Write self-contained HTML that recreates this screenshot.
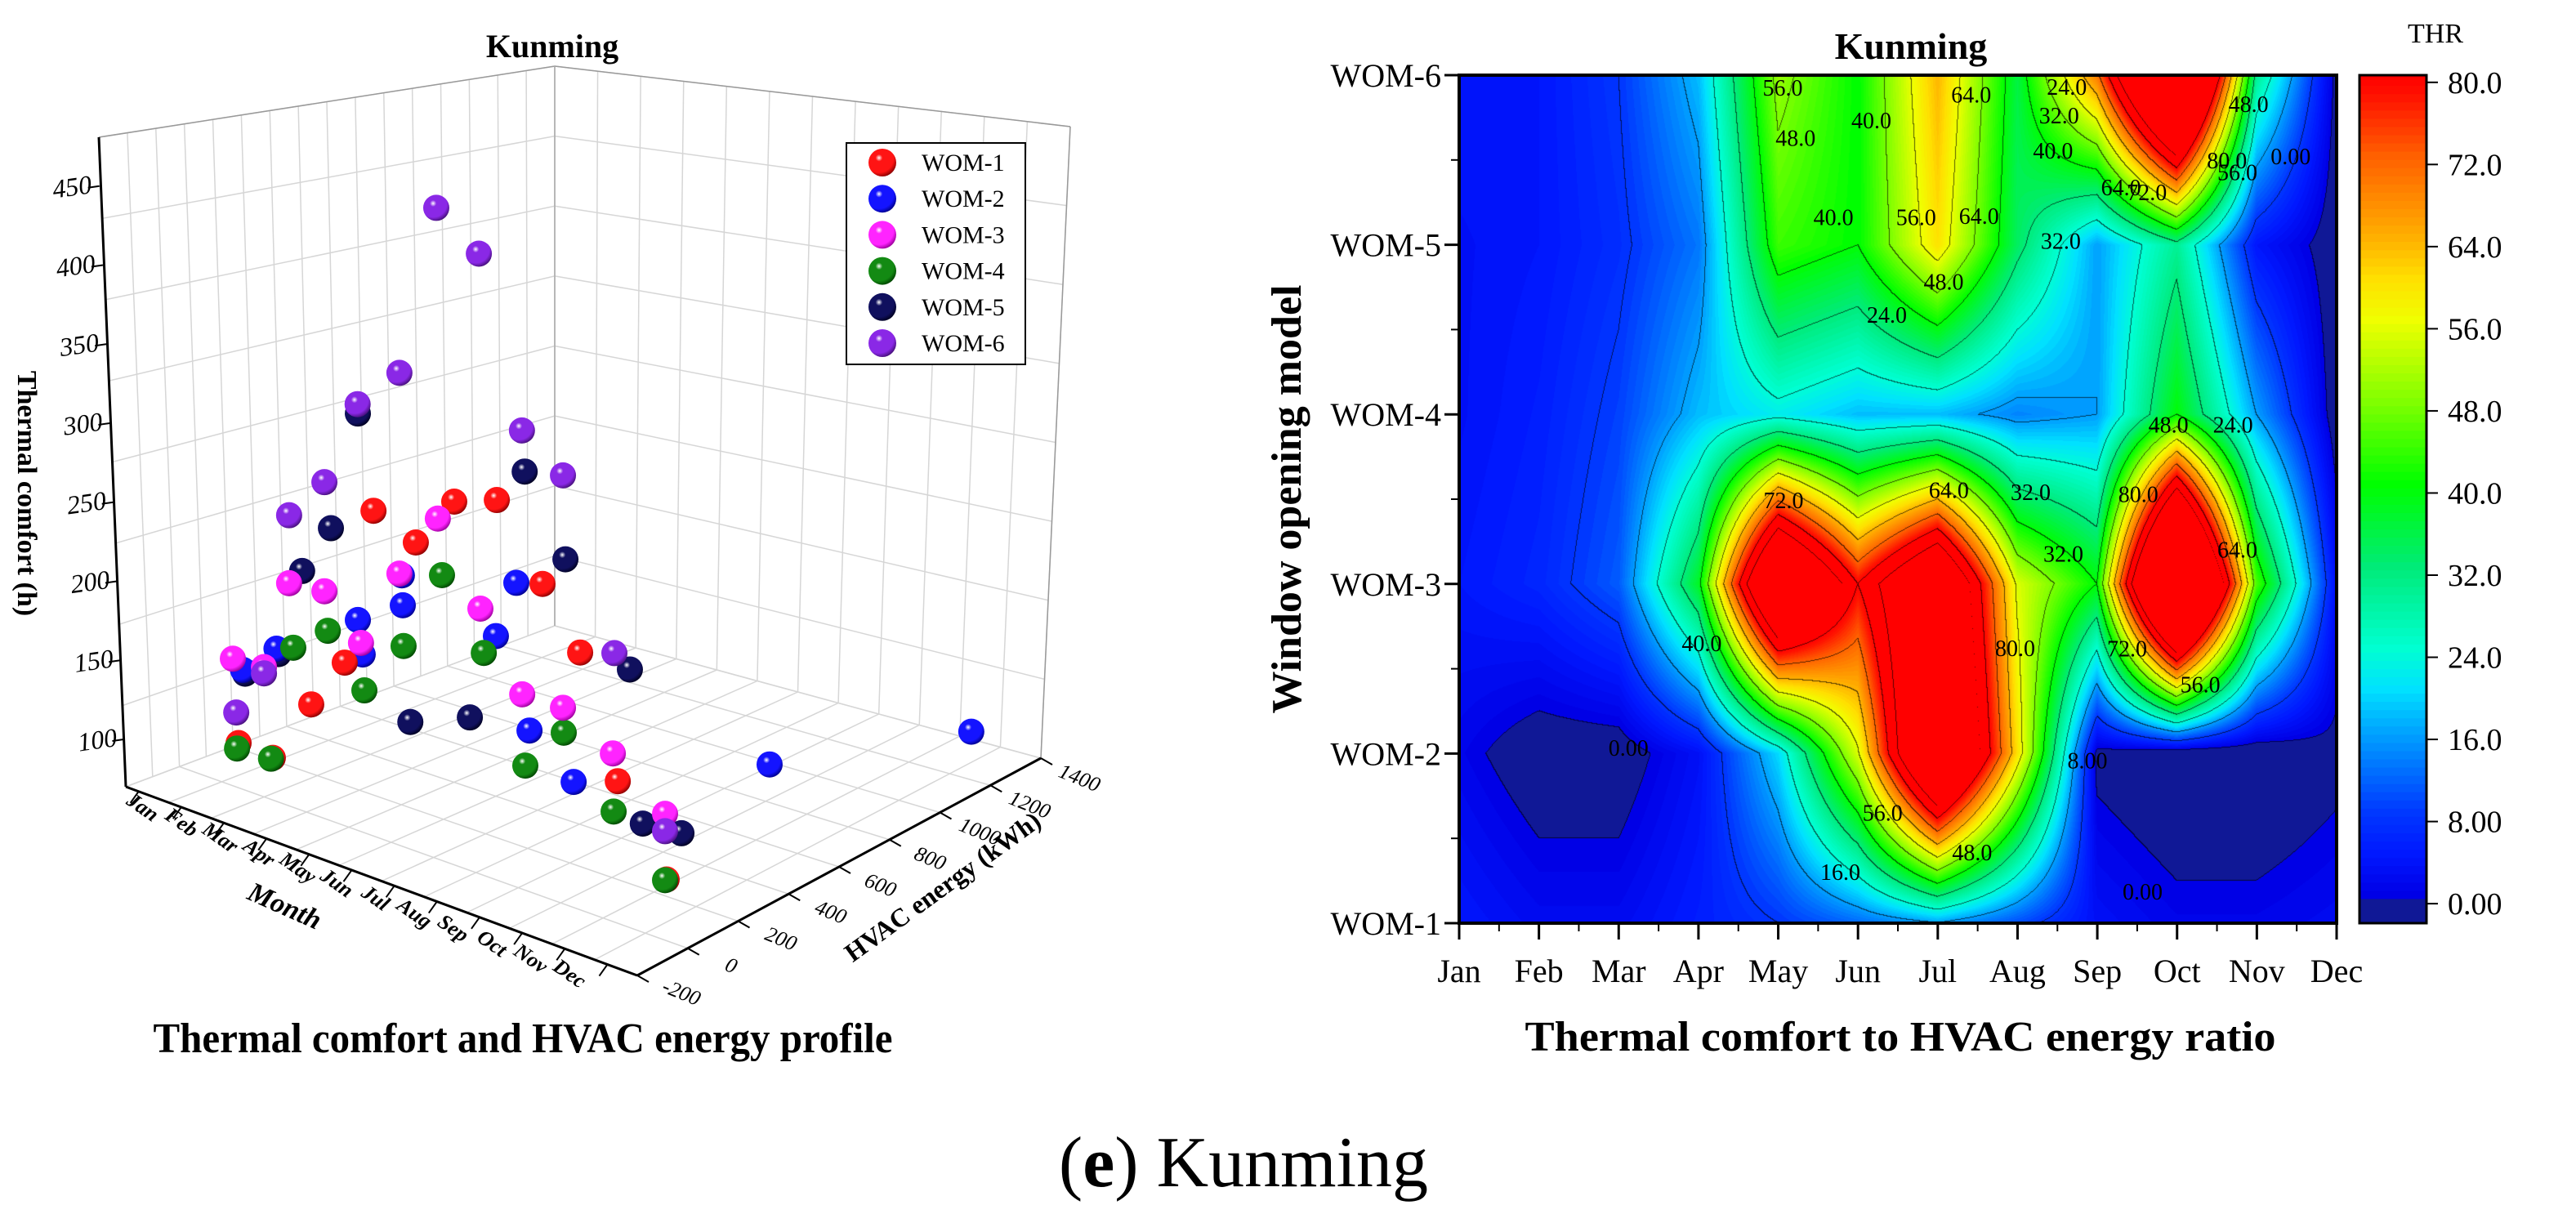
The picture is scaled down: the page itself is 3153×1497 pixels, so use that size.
<!DOCTYPE html>
<html><head><meta charset="utf-8">
<style>
html,body{margin:0;padding:0;background:#fff;}
#wrap{position:relative;width:3153px;height:1497px;overflow:hidden;background:#fff;}
#hm{position:absolute;left:1786px;top:92px;}
svg{position:absolute;left:0;top:0;}
text{font-family:"Liberation Serif",serif;}
</style></head>
<body>
<div id="wrap">
<canvas id="hm" width="1074" height="1038"></canvas>
<svg id="svg" width="3153" height="1497" xmlns="http://www.w3.org/2000/svg">
<defs id="defs"></defs>
</svg>
</div>
<script>
// ===== 3D scatter data =====
const months3d = ["Jan","Feb","Mar","Apr","May","Jun","Jul","Aug","Sep","Oct","Nov","Dec"];
const seriesNames = ["WOM-1","WOM-2","WOM-3","WOM-4","WOM-5","WOM-6"];
const energyW1 = [233,186,155,105,37,21,-10,-25,-28,-62,-96,-87];
const comfortW1 = [65,70,117,158,270,262,301,314,272,242,174,122];
const energyW2 = [250,200,334,174,146,-29,150,50,-78,-87,487,1083];
const comfortW2 = [110,138,157,158,221,226,204,256,183,162,141,128];
const energyW3 = [211,152,70,27,-11,-42,-73,-88,-106,-128,-115,-93];
const comfortW3 = [120,130,200,209,190,247,295,250,208,212,193,164];
const energyW4 = [227,179,86,40,2,-26,-57,-75,-94,-125,-112,-93];
const comfortW4 = [62,70,158,183,159,200,258,221,162,196,156,122];
const energyW5 = [258,208,120,52,-23,0,50,82,60,129,0,-30];
const comfortW5 = [107,134,204,247,336,150,160,324,281,217,140,147];
const energyW6 = [224,152,70,27,-24,-42,-79,-94,-107,-128,-109,-93];
const comfortW6 = [85,126,243,278,342,374,492,475,375,359,256,153];
const zTicks = [100,150,200,250,300,350,400,450];
const eTicks = [-200,0,200,400,600,800,1000,1200,1400];

// ===== Heatmap data (THR), rows WOM-1..WOM-6, cols Jan..Dec =====
const hmMonths = ["Jan","Feb","Mar","Apr","May","Jun","Jul","Aug","Sep","Oct","Nov","Dec"];
const hmRows = ["WOM-1","WOM-2","WOM-3","WOM-4","WOM-5","WOM-6"];
const thrW1 = [4,2,2,5,8,12,16,10,3,1,1,2];
const thrW2 = [1,-2,-2,3,20,55,120,60,-1,-3,-3,-1];
const thrW3 = [4,6,11,38,120,80,110,55,40,150,45,3];
const thrW4 = [3,5,9,18,22,18,18,14,16,40,16,-2];
const thrW5 = [3,4,7,13,44,40,60,34,16,30,4,-2];
const thrW6 = [4,4,8,18,50,40,64,36,70,140,30,-1];
const cbTicks = [0,8,16,24,32,40,48,56,64,72,80];
const contourLabels = [["56.0",647,133],["64.0",866,143],["24.0",977,132],["40.0",750,181],["48.0",662,207],["32.0",968,174],["48.0",1188,157],["40.0",961,226],["80.0",1163,240],["0.00",1237,234],["56.0",1175,258],["64.0",1040,280],["72.0",1070,287],["40.0",706,324],["56.0",802,324],["64.0",875,322],["32.0",970,359],["48.0",834,419],["24.0",768,468],["48.0",1095,630],["24.0",1170,630],["72.0",648,741],["64.0",840,726],["32.0",935,729],["80.0",1060,732],["32.0",973,820],["64.0",1175,814],["40.0",553,952],["80.0",917,959],["72.0",1047,960],["56.0",1132,1013],["0.00",468,1106],["8.00",1001,1125],["56.0",763,1202],["48.0",867,1260],["16.0",714,1289],["0.00",1065,1318]];

const NS="http://www.w3.org/2000/svg";
const svg=document.getElementById('svg');
const defs=document.getElementById('defs');
function mk(tag,attrs,parent,txt){const e=document.createElementNS(NS,tag);for(const k in attrs)e.setAttribute(k,attrs[k]);if(txt!==undefined)e.textContent=txt;(parent||svg).appendChild(e);return e;}

// ---------- 3D scatter ----------
const g3=mk('g',{});


const Lf=[154,963],Lt=[121,168],Bf=[679,766],Bt=[679,81],Rf=[1274,928],Rt=[1310,155],Ff=[780,1194];
function lerp(a,b,t){return [a[0]+(b[0]-a[0])*t,a[1]+(b[1]-a[1])*t];}
function quad(p00,p10,p11,p01,s,t){const a=lerp(p00,p10,s),b=lerp(p01,p11,s);return lerp(a,b,t);}
const zMin=70;
function line(a,b,st,w,parent,name){const l=mk('line',{x1:a[0],y1:a[1],x2:b[0],y2:b[1],stroke:st,'stroke-width':w},parent);return l;}
const gridG=mk('g',{},g3);


const gc='#d6d6d6';
for(let k=0;k<=16;k++){const s=k/16;line(quad(Lf,Bf,Bt,Lt,s,0),quad(Lf,Bf,Bt,Lt,s,1),gc,1.5,gridG,'gridline');}
for(let k=0;k<=8;k++){const t=k/8;line(quad(Lf,Bf,Bt,Lt,0,t),quad(Lf,Bf,Bt,Lt,1,t),gc,1.5,gridG,'gridline');}
for(let k=0;k<=12;k++){const s=k/12;line(quad(Bf,Rf,Rt,Bt,s,0),quad(Bf,Rf,Rt,Bt,s,1),gc,1.5,gridG,'gridline');}
for(let k=0;k<=8;k++){const t=k/8;line(quad(Bf,Rf,Rt,Bt,0,t),quad(Bf,Rf,Rt,Bt,1,t),gc,1.5,gridG,'gridline');}
for(let k=0;k<=12;k++){const s=k/12;line(lerp(Lf,Ff,s),lerp(Bf,Rf,s),gc,1.5,gridG,'gridline');}
for(let k=0;k<=8;k++){const s=k/8;line(lerp(Lf,Bf,s),lerp(Ff,Rf,s),gc,1.5,gridG,'gridline');}
line(Lt,Bt,'#999',1.5,g3,'box-top-edge');line(Bt,Rt,'#999',1.5,g3,'box-top-edge');line(Rt,Rf,'#999',1.5,g3,'box-right-edge');line(Bt,Bf,'#aaa',1.5,g3,'box-back-edge');
line(Lf,Lt,'#000',3,g3,'z-axis-line');
line(Lf,Ff,'#000',3,g3,'month-axis-line');
line(Ff,Rf,'#000',3,g3,'energy-axis-line');
zTicks.forEach(z=>{
  const y=963-1.935*(z-zMin), x=154-0.085*(z-zMin);
  line([x-14,y+2],[x,y],'#000',2,g3,'z-tick');
  const lx=143-(z-100)*0.0886, ly=903-(z-100)*1.934;
  const t=mk('text',{x:lx,y:ly+10,'font-size':32,'text-anchor':'end','font-family':'Liberation Sans, sans-serif','font-style':'italic',transform:`rotate(-8 ${lx} ${ly})`},g3,String(z));
  
});
months3d.forEach((m,i)=>{
  const p=lerp(Lf,Ff,(i+0.3)/12);
  line(p,[p[0]-10,p[1]+14],'#000',2,g3,'month-tick');
  const lx=170+47.5*i, ly=995+18.5*i;
  const t=mk('text',{x:lx,y:ly,'font-size':26,'text-anchor':'middle','font-style':'italic','font-weight':'bold',transform:`rotate(35 ${lx} ${ly})`},g3,m);
  
});
eTicks.forEach((e,i)=>{
  const s=(e+200)/1600, p=lerp(Ff,Rf,s);
  line(p,[p[0]+14,p[1]+8],'#000',2,g3,'energy-tick');
  const lx=834+60.9*i, ly=1215-32.8*i;
  const t=mk('text',{x:lx,y:ly+8,'font-size':26,'text-anchor':'middle','font-style':'italic',transform:`rotate(22 ${lx} ${ly})`},g3,String(e));
  
});
let tt;
tt=mk('text',{x:344,y:1119,'font-size':34,'font-weight':'bold','font-style':'italic','text-anchor':'middle',transform:'rotate(24 344 1119)'},g3,'Month');

tt=mk('text',{x:1160,y:1094,'font-size':32,'font-weight':'bold','text-anchor':'middle',transform:'rotate(-36 1160 1094)'},g3,'HVAC energy (kWh)');

tt=mk('text',{x:22,y:604,'font-size':34,'font-weight':'bold','text-anchor':'middle',transform:'rotate(90 22 604)'},g3,'Thermal comfort (h)');

tt=mk('text',{x:676,y:70,'font-size':40,'font-weight':'bold','text-anchor':'middle'},g3,'Kunming');

tt=mk('text',{x:640,y:1288,'font-size':52,'font-weight':'bold','text-anchor':'middle',textLength:905,lengthAdjust:'spacingAndGlyphs'},g3,'Thermal comfort and HVAC energy profile');


const colors=['#ff1414','#1414ff','#ff24ff','#138a13','#10105e','#8a28e6'];
const darks=['#8a0000','#00008a','#990099','#004400','#000020','#46107a'];
colors.forEach((c,i)=>{
  const rg=mk('radialGradient',{id:'bg'+i,cx:'0.38',cy:'0.33',r:'0.7'},defs);
  mk('stop',{offset:'0',  'stop-color':'#ffffff'},rg);
  mk('stop',{offset:'0.18','stop-color':c},rg);
  mk('stop',{offset:'0.75','stop-color':c},rg);
  mk('stop',{offset:'1','stop-color':darks[i]},rg);
});
const energyS=[energyW1,energyW2,energyW3,energyW4,energyW5,energyW6];
const comfortS=[comfortW1,comfortW2,comfortW3,comfortW4,comfortW5,comfortW6];
function proj(m,e,z){const u=(e+200)/1600;return [154+56.9*m+510*u, 962.5+21.0*m-231.5*u-1.935*(z-zMin), 962.5+21.0*m-231.5*u];}
const pts=[];
energyS.forEach((arr,si)=>arr.forEach((e,mi)=>{const p=proj(mi,e,comfortS[si][mi]);pts.push({si,mi,x:p[0],y:p[1],d:p[2]});}));
pts.sort((a,b)=>a.d-b.d);
const ballG=mk('g',{},g3);


pts.forEach(p=>{
  const c=mk('circle',{cx:p.x,cy:p.y,r:16,fill:`url(#bg${p.si})`},ballG);
  
  
});
const lg=mk('g',{},g3);


const lb=mk('rect',{x:1036,y:175,width:219,height:271,fill:'#fff',stroke:'#000','stroke-width':2},lg);

seriesNames.forEach((n,i)=>{
  const y=199+44.2*i;
  const c=mk('circle',{cx:1080,cy:y,r:17,fill:`url(#bg${i})`},lg);
  
  const t=mk('text',{x:1128,y:y+10,'font-size':30},lg,n);
  
});

// ---------- Heatmap ----------
const PX=1786,PY=92,PW=1074,PH=1038;
const grid=[thrW1,thrW2,thrW3,thrW4,thrW5,thrW6];
const stops=[[-2,[16,24,150]],[-0.01,[16,24,150]],[0,[0,0,230]],[4,[0,24,255]],[8,[0,56,255]],[12,[0,110,255]],[16,[0,165,255]],[20,[0,225,255]],[24,[0,255,210]],[32,[0,235,120]],[40,[0,255,0]],[48,[128,255,0]],[56,[240,255,0]],[60,[255,224,0]],[64,[255,176,0]],[72,[255,96,0]],[78,[255,16,0]],[80,[255,0,0]]];
function cmap(v){if(v<=stops[0][0])return stops[0][1];for(let i=1;i<stops.length;i++){if(v<=stops[i][0]){const a=stops[i-1],b=stops[i];const t=(v-a[0])/(b[0]-a[0]);return [a[1][0]+(b[1][0]-a[1][0])*t,a[1][1]+(b[1][1]-a[1][1])*t,a[1][2]+(b[1][2]-a[1][2])*t];}}return stops[stops.length-1][1];}
function gv(r,c){r=Math.max(0,Math.min(5,r));c=Math.max(0,Math.min(11,c));return grid[r][c];}
function sample(cx,ry){const c0=Math.min(10,Math.floor(cx)),r0=Math.min(4,Math.floor(ry));const tc=cx-c0,tr=ry-r0;
  const a=gv(r0,c0)*(1-tc)+gv(r0,c0+1)*tc, b=gv(r0+1,c0)*(1-tc)+gv(r0+1,c0+1)*tc; return a*(1-tr)+b*tr;}
const cv=document.getElementById('hm');const ctx=cv.getContext('2d');
const img=ctx.createImageData(PW,PH);const vals=new Float32Array(PW*PH);
for(let y=0;y<PH;y++){const ry=5*(1-y/(PH-1));for(let x=0;x<PW;x++){const cx=11*x/(PW-1);vals[y*PW+x]=sample(cx,ry);}}
for(let y=0;y<PH;y++)for(let x=0;x<PW;x++){const i=y*PW+x;let v=vals[i];const q=Math.floor(v/0.8)*0.8;const col=cmap(q);
  const b=Math.floor(v/8);let edge=false;
  if(x<PW-1&&Math.floor(vals[i+1]/8)!==b)edge=true;
  if(y<PH-1&&Math.floor(vals[i+PW]/8)!==b)edge=true;
  if(v>88)edge=false;
  const k=i*4;if(edge){img.data[k]=col[0]*0.35;img.data[k+1]=col[1]*0.35;img.data[k+2]=col[2]*0.35;}else{img.data[k]=col[0];img.data[k+1]=col[1];img.data[k+2]=col[2];}img.data[k+3]=255;}
ctx.putImageData(img,0,0);

const gh=mk('g',{});


const fr=mk('rect',{x:PX,y:PY,width:PW,height:PH,fill:'none',stroke:'#000','stroke-width':4},gh);

contourLabels.forEach(l=>{
  const x=1500+l[1]*1.054, y=92+(l[2]-115)*0.8304;
  const t=mk('text',{x:x,y:y+10,'font-size':28,'text-anchor':'middle'},gh,l[0]);
  
});
hmRows.forEach((r,i)=>{
  const y=PY+PH-i*PH/5;
  line([PX-18,y],[PX,y],'#000',3,gh,'y-tick');
  if(i<5)line([PX-10,y-PH/10],[PX,y-PH/10],'#000',2,gh,'y-minor-tick');
  const t=mk('text',{x:PX-22,y:y+14,'font-size':40,'text-anchor':'end'},gh,r);
  
});
hmMonths.forEach((m,i)=>{
  const x=PX+i*PW/11;
  line([x,PY+PH],[x,PY+PH+20],'#000',3,gh,'x-tick');
  if(i<11)line([x+PW/22,PY+PH],[x+PW/22,PY+PH+10],'#000',2,gh,'x-minor-tick');
  const t=mk('text',{x:x,y:PY+PH+72,'font-size':40,'text-anchor':'middle'},gh,m);
  
});
tt=mk('text',{x:2339,y:72,'font-size':46,'font-weight':'bold','text-anchor':'middle'},gh,'Kunming');

tt=mk('text',{x:2326,y:1286,'font-size':52,'font-weight':'bold','text-anchor':'middle',textLength:919,lengthAdjust:'spacingAndGlyphs'},gh,'Thermal comfort to HVAC energy ratio');

tt=mk('text',{x:1592,y:611,'font-size':52,'font-weight':'bold','text-anchor':'middle',transform:'rotate(-90 1592 611)'},gh,'Window opening model');


const CBX=2888,CBW=82,cbMin=-1.9,cbMax=80.7;
const cbg=mk('g',{},gh);


function cbY(v){return PY+PH-(v-cbMin)/(cbMax-cbMin)*PH;}
for(let v=cbMin;v<cbMax;v+=0.8){const c=cmap(Math.floor(v/0.8)*0.8);const y1=cbY(Math.min(v+0.8,cbMax)),y0=cbY(v);
  const r=mk('rect',{x:CBX,y:y1,width:CBW,height:y0-y1+0.6,fill:`rgb(${c[0]|0},${c[1]|0},${c[2]|0})`},cbg);
  }
const cbf=mk('rect',{x:CBX,y:PY,width:CBW,height:PH,fill:'none',stroke:'#000','stroke-width':3},cbg);

cbTicks.forEach(v=>{
  const y=cbY(v);
  line([CBX+CBW,y],[CBX+CBW+14,y],'#000',2,cbg,'colorbar-tick');
  const t=mk('text',{x:2996,y:y+13,'font-size':38},cbg,v===0?'0.00':(v<10?v.toFixed(2):v.toFixed(1)));
  
});
tt=mk('text',{x:2981,y:52,'font-size':34,'text-anchor':'middle'},cbg,'THR');


const cap=mk('text',{x:1522,y:1452,'font-size':88,'text-anchor':'middle'});


mk('tspan',{},cap,'(');mk('tspan',{'font-weight':'bold'},cap,'e');mk('tspan',{},cap,') Kunming');
</script>
</body></html>
